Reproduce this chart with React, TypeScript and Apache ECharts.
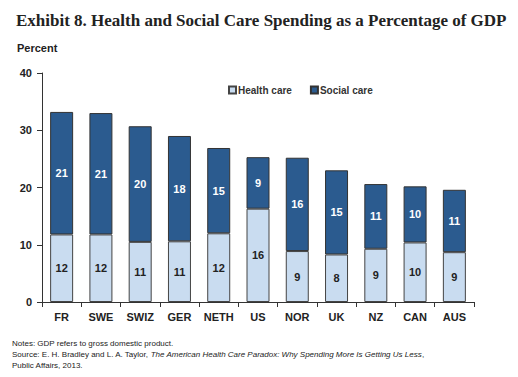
import React, { useEffect, useRef } from "react";
import * as echarts from "echarts";

const categories = ["FR", "SWE", "SWIZ", "GER", "NETH", "US", "NOR", "UK", "NZ", "CAN", "AUS"];
const healthCare = [11.8, 11.8, 10.5, 10.6, 12.0, 16.3, 8.9, 8.3, 9.3, 10.4, 8.7];
const socialCare = [21.4, 21.2, 20.2, 18.4, 14.9, 9.0, 16.3, 14.7, 11.3, 9.8, 10.9];
const yTicks = { min: 0, max: 40, interval: 10 };

const titleText = "Exhibit 8. Health and Social Care Spending as a Percentage of GDP";
const unitText = "Percent";

export default function App() {
  const ref = useRef<HTMLDivElement>(null);
  useEffect(() => {
    if (!ref.current) return;
    const chart = echarts.init(ref.current, null, { renderer: "svg" });
    const labelFont = { fontFamily: "Arial, Liberation Sans, sans-serif", fontWeight: "bold" as const, fontSize: 11 };
    chart.setOption({
      animation: false,
      backgroundColor: "#ffffff",
      grid: { left: 42, right: 44, top: 73, bottom: 75, containLabel: false },
      legend: {
        data: ["Health care", "Social care"],
        left: 223,
        top: 80,
        itemWidth: 7,
        itemHeight: 7,
        itemGap: 18,
        icon: "rect",
        textStyle: { ...labelFont, fontSize: 10, color: "#333", padding: [0, 0, 0, -3] },
      },
      xAxis: {
        type: "category",
        data: categories,
        axisLine: { lineStyle: { color: "#333", width: 1 } },
        axisTick: { show: true, alignWithLabel: false, length: 5, lineStyle: { color: "#333" } },
        axisLabel: { ...labelFont, color: "#222", margin: 9 },
      },
      yAxis: {
        type: "value",
        min: yTicks.min,
        max: yTicks.max,
        interval: yTicks.interval,
        splitLine: { show: false },
        axisLine: { show: true, lineStyle: { color: "#333", width: 1 } },
        axisTick: { show: true, length: 5, lineStyle: { color: "#333" } },
        axisLabel: { ...labelFont, color: "#222", margin: 10 },
      },
      series: [
        {
          name: "Health care",
          type: "bar",
          stack: "total",
          data: healthCare,
          barWidth: 23,
          itemStyle: { color: "#c9dcf0", borderColor: "#444", borderWidth: 1 },
          label: {
            show: true,
            position: "inside",
            formatter: (p: any) => String(Math.round(p.value)),
            ...labelFont,
            color: "#222",
          },
        },
        {
          name: "Social care",
          type: "bar",
          stack: "total",
          data: socialCare,
          barWidth: 23,
          itemStyle: { color: "#2b5b8f", borderColor: "#333", borderWidth: 1 },
          label: {
            show: true,
            position: "inside",
            formatter: (p: any) => String(Math.round(p.value)),
            ...labelFont,
            color: "#ffffff",
          },
        },
      ],
      graphic: [
        {
          type: "text",
          left: 16,
          top: 12,
          style: {
            text: titleText,
            fontFamily: "'Liberation Serif', 'Times New Roman', serif",
            fontWeight: "bold",
            fontSize: 17,
            fill: "#222",
          },
        },
        {
          type: "text",
          left: 17,
          top: 42,
          style: { text: unitText, ...labelFont, fontSize: 11, fill: "#222" },
        },
        {
          type: "text",
          left: 12,
          top: 339,
          style: {
            text: "Notes: GDP refers to gross domestic product.",
            fontFamily: "Arial, Liberation Sans, sans-serif",
            fontSize: 8,
            fill: "#222",
          },
        },
        {
          type: "text",
          left: 12,
          top: 350,
          style: {
            text: "{n|Source: E. H. Bradley and L. A. Taylor, }{i|The American Health Care Paradox: Why Spending More Is Getting Us Less}{n|,}",
            rich: {
              n: { fontFamily: "Arial, Liberation Sans, sans-serif", fontSize: 8, fill: "#222" },
              i: { fontFamily: "Arial, Liberation Sans, sans-serif", fontSize: 8, fontStyle: "italic", fill: "#222" },
            },
          },
        },
        {
          type: "text",
          left: 12,
          top: 361,
          style: {
            text: "Public Affairs, 2013.",
            fontFamily: "Arial, Liberation Sans, sans-serif",
            fontSize: 8,
            fill: "#222",
          },
        },
      ],
    });
    return () => chart.dispose();
  }, []);
  return <div ref={ref} style={{ width: 518, height: 377, position: "absolute", left: 0, top: 0 }} />;
}
